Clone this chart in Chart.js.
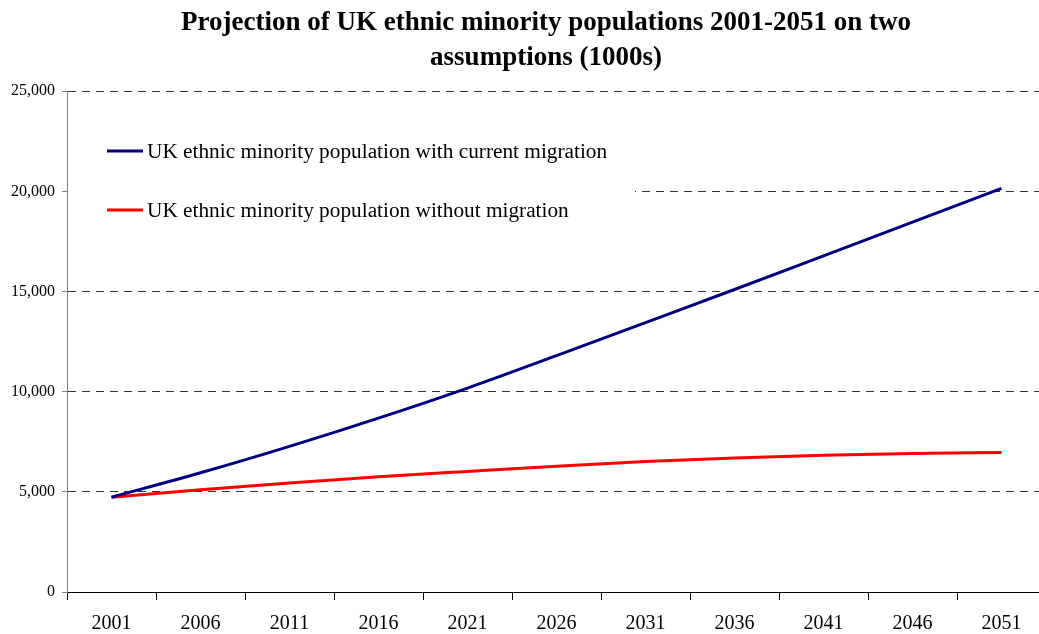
<!DOCTYPE html>
<html>
<head>
<meta charset="utf-8">
<script src="https://cdn.jsdelivr.net/npm/chart.js@4/dist/chart.umd.min.js"></script>
<style>
  html, body { margin: 0; padding: 0; background: #fff; overflow: hidden; }
  #caja { position: relative; width: 1092px; height: 634px; }
</style>
</head>
<body>
<div id="caja"><canvas id="grafico"></canvas></div>
<script>
// Datos (miles de personas)
const anios = ["2001", "2006", "2011", "2016", "2021", "2026", "2031", "2036", "2041", "2046", "2051"];
const conMigracion = [4730, 5950, 7270, 8680, 10180, 11800, 13450, 15100, 16780, 18460, 20150];
const sinMigracion = [4730, 5110, 5440, 5750, 6020, 6280, 6510, 6690, 6830, 6920, 6970];
const etiquetas = [
    "UK ethnic minority population with current migration",
    "UK ethnic minority population without migration"
];
const titulo = ["Projection of UK ethnic minority populations 2001-2051 on two", "assumptions (1000s)"];

const fuente = "'Liberation Serif', 'Times New Roman', serif";

// leyenda dentro del área del gráfico, con fondo blanco
const leyendaInterna = {
    id: "leyendaInterna",
    afterLayout(chart) {
        // el título se centra sobre todo el lienzo
        chart.titleBlock.left = 0;
        chart.titleBlock.right = chart.width;
    },
    beforeDatasetsDraw(chart) {
        const ctx = chart.ctx;
        const area = chart.chartArea;
        ctx.save();
        ctx.fillStyle = "#ffffff";
        ctx.fillRect(area.left + 1, 112, 635 - area.left - 1, 136);
        ctx.font = "21.3px " + fuente;
        ctx.textBaseline = "middle";
        ctx.fillStyle = "#000000";
        const filas = [151, 210];
        chart.data.datasets.forEach((ds, i) => {
            ctx.strokeStyle = ds.borderColor;
            ctx.lineWidth = 3;
            ctx.beginPath();
            ctx.moveTo(107, filas[i]);
            ctx.lineTo(143, filas[i]);
            ctx.stroke();
            ctx.fillText(ds.label, 147, filas[i] + 1);
        });
        ctx.restore();
    }
};

new Chart(document.getElementById("grafico"), {
    type: "line",
    data: {
        labels: anios,
        datasets: [
            {
                label: etiquetas[0],
                data: conMigracion,
                borderColor: "#000080",
                borderWidth: 3,
                pointRadius: 0,
                cubicInterpolationMode: "monotone",
                fill: false
            },
            {
                label: etiquetas[1],
                data: sinMigracion,
                borderColor: "#ff0000",
                borderWidth: 3,
                pointRadius: 0,
                cubicInterpolationMode: "monotone",
                fill: false
            }
        ]
    },
    options: {
        responsive: true,
        maintainAspectRatio: false,
        animation: false,
        layout: { padding: { left: 4, right: 46, top: 0, bottom: 0 } },
        plugins: {
            legend: { display: false },
            tooltip: { enabled: false },
            title: {
                display: true,
                text: titulo,
                color: "#000000",
                font: { family: fuente, size: 27, weight: "bold", lineHeight: 1.3 },
                padding: { top: 5, bottom: 16 }
            }
        },
        scales: {
            x: {
                offset: true,
                afterFit: eje => { eje.height = 42; },
                grid: {
                    offset: true,
                    drawOnChartArea: false,
                    drawTicks: true,
                    tickLength: 8,
                    tickColor: "#000000"
                },
                border: { color: "#000000", width: 1 },
                ticks: {
                    color: "#000000",
                    padding: 12,
                    maxRotation: 0,
                    font: { family: fuente, size: 20 }
                }
            },
            y: {
                min: 0,
                max: 25000,
                grid: {
                    color: "#333333",
                    tickLength: 5,
                    tickColor: "#808080"
                },
                border: { color: "#808080", width: 1, dash: [8, 6] },
                ticks: {
                    stepSize: 5000,
                    color: "#000000",
                    padding: 7,
                    font: { family: fuente, size: 16 },
                    callback: v => v.toLocaleString("en-US")
                }
            }
        }
    },
    plugins: [leyendaInterna]
});
</script>
</body>
</html>
